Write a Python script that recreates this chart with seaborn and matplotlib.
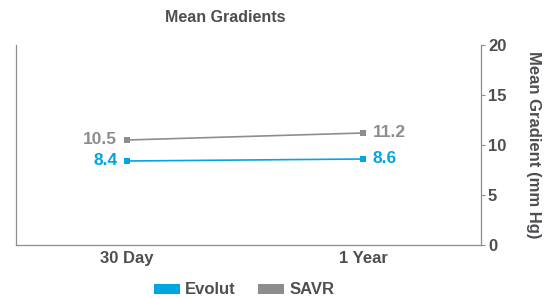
import matplotlib
matplotlib.use("Agg")
import matplotlib.pyplot as plt
import seaborn as sns
import pandas as pd
from matplotlib.patches import Patch

categories = ["30 Day", "1 Year"]
evolut = [8.4, 8.6]
savr = [10.5, 11.2]
series_names = ["Evolut", "SAVR"]
yticks = [0, 5, 10, 15, 20]

BLUE = "#00a6e0"
GRAY = "#8b8d8f"
TXT = "#4d4e51"

sns.set_theme(style="white")
plt.rcParams["font.family"] = ["Liberation Sans", "DejaVu Sans"]

df = pd.DataFrame({
    "cat": categories * 2,
    "val": evolut + savr,
    "series": [series_names[0]] * 2 + [series_names[1]] * 2,
})
df["x"] = [0, 1, 0, 1]

fig = plt.figure(figsize=(5.49, 2.98), dpi=100)
ax = fig.add_axes([16/549, 1 - 245/298, (481-16)/549, (245-45)/298])

sns.lineplot(data=df, x="x", y="val", hue="series", palette=[BLUE, GRAY],
             marker="s", markersize=4, markeredgewidth=0, linewidth=1.2,
             legend=False, ax=ax)

for vals, col in [(evolut, BLUE), (savr, GRAY)]:
    ax.annotate(f"{vals[0]}", (0, vals[0]), xytext=(-7, 0), textcoords="offset points",
                ha="right", va="center", color=col, fontsize=12.5, fontweight="bold")
    ax.annotate(f"{vals[1]}", (1, vals[1]), xytext=(7, 0), textcoords="offset points",
                ha="left", va="center", color=col, fontsize=12.5, fontweight="bold")

ax.set_xlim(-0.47, 1.5)
ax.set_ylim(0, 20)
ax.set_xticks([0, 1])
ax.set_xticklabels(categories, fontsize=12, fontweight="bold", color=TXT)
ax.set_yticks(yticks)
ax.yaxis.tick_right()
ax.yaxis.set_label_position("right")
ax.set_yticklabels([str(t) for t in yticks], fontsize=12, fontweight="bold", color=TXT)
ax.tick_params(axis="y", which="both", right=True, length=3, width=0.8, color=GRAY, pad=2)
ax.tick_params(axis="x", bottom=False, length=0, pad=4)
ax.set_xlabel("")
ax.set_ylabel("Mean Gradient (mm Hg)", rotation=270, labelpad=25, fontsize=12,
              fontweight="bold", color=TXT)

for s in ["left", "right", "bottom"]:
    ax.spines[s].set_visible(True)
    ax.spines[s].set_color(GRAY)
    ax.spines[s].set_linewidth(0.9)
ax.spines["top"].set_visible(False)

fig.text(225/549, 1 - 17/298, "Mean Gradients", ha="center", va="center",
         fontsize=11.5, fontweight="bold", color=TXT)

handles = [Patch(facecolor=BLUE, edgecolor="none"), Patch(facecolor=GRAY, edgecolor="none")]
leg = fig.legend(handles, series_names, loc="center", bbox_to_anchor=(244/549, 1 - 290/298),
                 ncol=2, frameon=False, handlelength=1.6, handleheight=0.55,
                 columnspacing=1.3, handletextpad=0.3, borderpad=0,
                 prop={"size": 12, "weight": "bold"})
for t in leg.get_texts():
    t.set_color(TXT)

fig.savefig("out.png", dpi=100)
